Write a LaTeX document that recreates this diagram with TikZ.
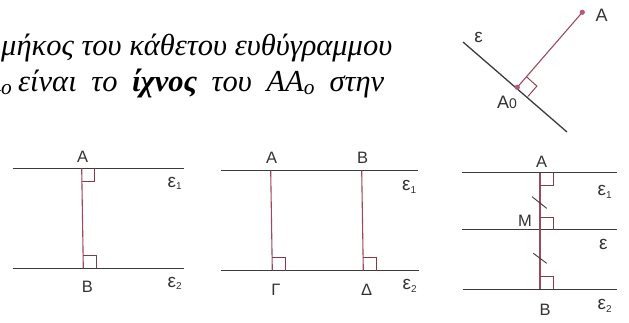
\documentclass[tikz,border=0pt]{standalone}
\usepackage{fontspec}
\setmainfont{Liberation Serif}
\newfontfamily\lblfont{Liberation Sans}
\usetikzlibrary{calc}
\definecolor{lncol}{HTML}{3C3C3C}
\definecolor{segcol}{HTML}{9A4A5C}
\definecolor{sqcol}{HTML}{8A3848}
\definecolor{dotcol}{HTML}{B5587A}
\definecolor{lblcol}{HTML}{333333}
\tikzset{
  geoline/.style={draw=lncol, line width=1.3pt},
  perpseg/.style={draw=segcol, line width=1.1pt},
  rasq/.style={draw=sqcol, line width=0.9pt},
  tickmark/.style={draw=lncol, line width=0.9pt},
  lbl/.style={text=lblcol, font=\lblfont\fontsize{16.5}{16.5}\selectfont, inner sep=0pt},
  biglbl/.style={text=lblcol, font=\lblfont\fontsize{18}{18}\selectfont, inner sep=0pt},
  eplbl/.style={text=lblcol, font=\lblfont\fontsize{19}{19}\selectfont, inner sep=0pt},
  txt/.style={font=\itshape\fontsize{30.5}{30.5}\selectfont, inner sep=0pt},
  ptdot/.style={fill=dotcol, draw=none},
}
\newcommand{\subn}[1]{\textsubscript{\fontsize{10}{10}\selectfont #1}}
\begin{document}
\begin{tikzpicture}[x=1pt, y=-1pt]
\useasboundingbox (0,0) rectangle (629,322);
\clip (0,0) rectangle (629,322);
% text
\node[txt, anchor=base west] (t1) at (1,55) {μήκος του κάθετου ευθύγραμμου};
\node[txt, anchor=base east] (t2a) at (12.5,91) {A\textsubscript{o}};
\node[txt, anchor=base west] (t2) at (18,91) {\makebox[366pt][s]{είναι το \textbf{ίχνος} του AA\textsubscript{o} στην}};
% top-right figure
\coordinate (E1) at (463,42);
\coordinate (E2) at (567,132);
\coordinate (A0) at (517.3,87.3);
\coordinate (A) at (582.3,12.3);
\draw[geoline] (E1) -- (E2);
\draw[perpseg] (A0) -- (A);
\coordinate (Q1) at ($(A0)!14pt!(A)$);
\coordinate (Q2) at ($(A0)!14pt!(E2)$);
\draw[rasq] (Q1) -- ($(Q1)+(Q2)-(A0)$) -- (Q2);
\fill[ptdot] (A) circle (2.6pt);
\fill[ptdot] (A0) circle (2.6pt);
\node[biglbl] (lA) at (601.5,15) {A};
\node[eplbl] (lE) at (478.5,37) {ε};
\node[biglbl] (lA0) at (507,102.5) {A{\fontsize{14}{14}\selectfont 0}};
% figure 1
\coordinate (L1a) at (12.7,168.3);
\coordinate (L1b) at (184.3,168.3);
\coordinate (L2a) at (12.7,268.3);
\coordinate (L2b) at (184.3,268.3);
\coordinate (P1A) at (81.7,168.3);
\coordinate (P1B) at (83.3,268.3);
\draw[geoline] (L1a) -- (L1b);
\draw[geoline] (L2a) -- (L2b);
\draw[perpseg] (P1A) -- (P1B);
\draw[rasq] ($(P1A)+(0,13)$) -| ($(P1A)+(13,0)$);
\draw[rasq] ($(P1B)+(0,-13)$) -| ($(P1B)+(13,0)$);
\node[lbl] (f1A) at (82.7,156.5) {A};
\node[lbl] (f1B) at (87.3,286.5) {B};
\node[eplbl] (f1e1) at (175,183.3) {ε\subn{1}};
\node[eplbl] (f1e2) at (175,283.3) {ε\subn{2}};
% figure 2
\coordinate (M1a) at (221,170.7);
\coordinate (M1b) at (418.3,170.7);
\coordinate (M2a) at (221,270.7);
\coordinate (M2b) at (419.3,270.7);
\coordinate (P2A) at (270.7,170.7);
\coordinate (P2G) at (272.3,270.7);
\coordinate (P2B) at (361.7,170.7);
\coordinate (P2D) at (363.3,270.7);
\draw[geoline] (M1a) -- (M1b);
\draw[geoline] (M2a) -- (M2b);
\draw[perpseg] (P2A) -- (P2G);
\draw[perpseg] (P2B) -- (P2D);
\draw[rasq] ($(P2G)+(0,-13)$) -| ($(P2G)+(13,0)$);
\draw[rasq] ($(P2D)+(0,-13)$) -| ($(P2D)+(13,0)$);
\node[lbl] (f2A) at (271.7,158.3) {A};
\node[lbl] (f2B) at (362.7,158.3) {B};
\node[lbl] (f2G) at (276,290) {Γ};
\node[lbl] (f2D) at (366.7,290) {Δ};
\node[eplbl] (f2e1) at (409.3,186.7) {ε\subn{1}};
\node[eplbl] (f2e2) at (410,286) {ε\subn{2}};
% figure 3
\coordinate (N1a) at (461.7,172.7);
\coordinate (N1b) at (616.7,172.7);
\coordinate (N0a) at (461.7,229.7);
\coordinate (N0b) at (617.3,229.7);
\coordinate (N2a) at (462.7,289.3);
\coordinate (N2b) at (617.3,289.3);
\coordinate (P3A) at (540,172.7);
\coordinate (P3M) at (540,229.7);
\coordinate (P3B) at (540,289.3);
\draw[geoline] (N1a) -- (N1b);
\draw[geoline] (N0a) -- (N0b);
\draw[geoline] (N2a) -- (N2b);
\draw[perpseg] (P3A) -- (P3B);
\draw[rasq] ($(P3A)+(0,12.5)$) -| ($(P3A)+(13,0)$);
\draw[rasq] ($(P3M)+(0,-12.5)$) -| ($(P3M)+(13,0)$);
\draw[rasq] ($(P3B)+(0,-12.5)$) -| ($(P3B)+(13,0)$);
\coordinate (T1a) at (532,196.7);
\coordinate (T1b) at (546.7,208.3);
\coordinate (T2a) at (533.3,253.3);
\coordinate (T2b) at (546.7,263.3);
\draw[tickmark] (T1a) -- (T1b);
\draw[tickmark] (T2a) -- (T2b);
\node[lbl] (f3A) at (541.7,161.7) {A};
\node[lbl] (f3M) at (525,220.5) {M};
\node[lbl] (f3B) at (545,310) {B};
\node[eplbl] (f3e1) at (605,191.7) {ε\subn{1}};
\node[eplbl] (f3e) at (603.3,244) {ε};
\node[eplbl] (f3e2) at (605,306) {ε\subn{2}};
\end{tikzpicture}
\end{document}
